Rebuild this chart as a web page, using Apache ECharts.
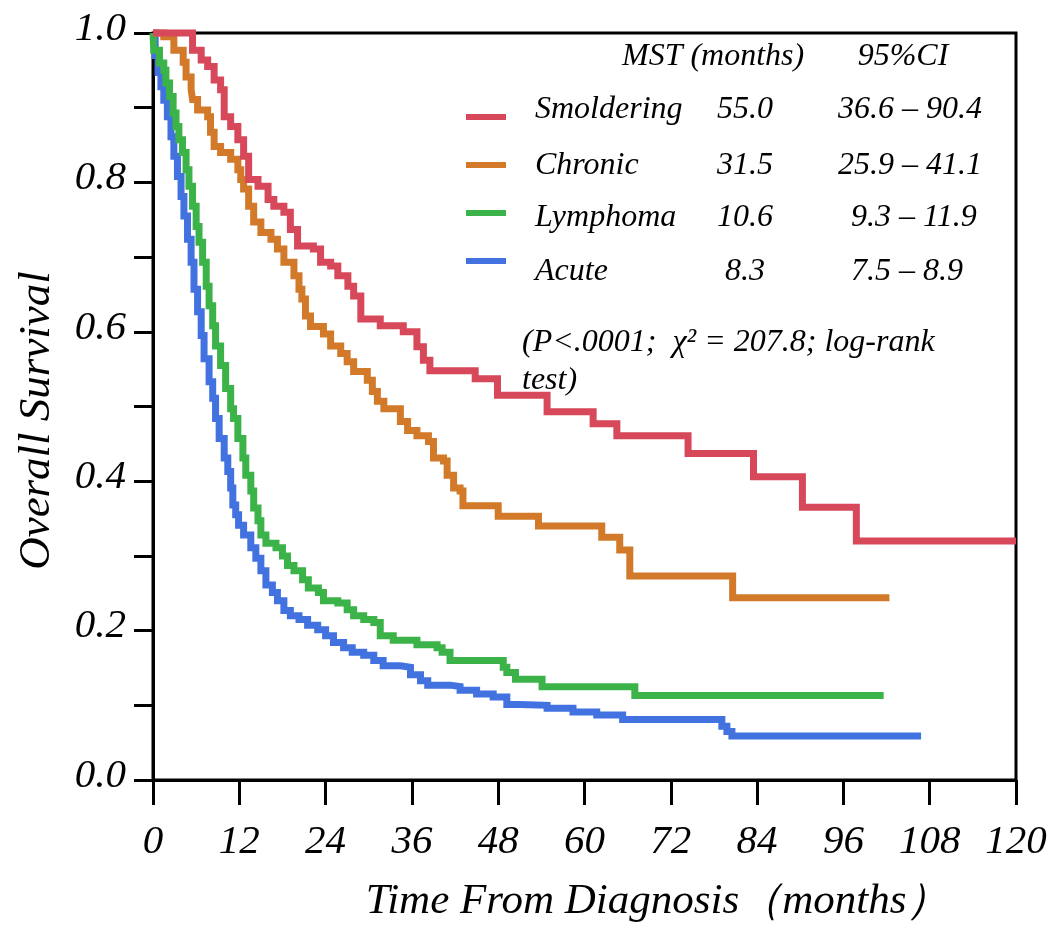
<!DOCTYPE html>
<html>
<head>
<meta charset="utf-8">
<script src="https://cdn.jsdelivr.net/npm/echarts@6/dist/echarts.min.js"></script>
<style>html,body{margin:0;padding:0;background:#fff}#chart{width:1063px;height:928px}</style>
</head>
<body>
<div id="chart"></div>
<script>
// ---- data ----
const categories = ['Smoldering', 'Chronic', 'Lymphoma', 'Acute'];
const colors = ['#D6485A', '#D27A29', '#3BB348', '#4172E0'];
const mstMonths = ['55.0', '31.5', '10.6', '8.3'];
const ci95 = ['36.6 \u2013 90.4', '25.9 \u2013 41.1', '9.3 \u2013 11.9', '7.5 \u2013 8.9'];
const xTickLabels = ['0','12','24','36','48','60','72','84','96','108','120'];
const yTickLabels = ['0.0','','0.2','','0.4','','0.6','','0.8','','1.0'];

const smoldering = [[0,1],[4.8,1],[5.5,0.977],[6.7,0.964],[7.6,0.955],[8.5,0.937],[9.4,0.924],[9.9,0.888],[10.8,0.875],[11.8,0.857],[12.6,0.835],[13.3,0.804],[14.6,0.795],[16,0.777],[16.8,0.768],[18.2,0.76],[19.1,0.737],[20.1,0.715],[22.3,0.711],[23.3,0.693],[24.7,0.688],[25.7,0.675],[27.1,0.661],[27.9,0.648],[28.9,0.617],[31.6,0.608],[34.8,0.6],[36.7,0.58],[37.6,0.562],[38.5,0.548],[44.8,0.537],[47.9,0.515],[54.8,0.493],[61.2,0.477],[64.5,0.461],[74.4,0.437],[83.5,0.406],[90.3,0.365],[97.8,0.32],[120,0.32]];
const chronic = [[0,1],[1.5,0.995],[2.9,0.977],[4.2,0.961],[4.6,0.941],[5.3,0.924],[5.5,0.911],[6.2,0.897],[7.6,0.888],[8,0.867],[8.5,0.848],[9.4,0.84],[10.8,0.831],[11.8,0.817],[12.2,0.804],[12.6,0.791],[13.3,0.768],[14,0.747],[15,0.733],[16.4,0.724],[17.3,0.711],[18.2,0.693],[19.6,0.675],[20.3,0.657],[20.7,0.644],[21.2,0.621],[21.9,0.607],[23.7,0.597],[24.7,0.581],[26.1,0.571],[27,0.56],[27.9,0.547],[29.8,0.535],[30.5,0.52],[31.2,0.507],[32.1,0.497],[34.4,0.48],[35.4,0.468],[36.7,0.461],[38.3,0.453],[39,0.431],[40.4,0.427],[40.9,0.408],[41.8,0.391],[42.7,0.387],[43.1,0.367],[48,0.353],[53.6,0.34],[62.4,0.325],[64.9,0.308],[66.3,0.273],[80.6,0.244],[102.4,0.244]];
const lymphoma = [[0,1],[0.1,0.977],[0.9,0.96],[1.5,0.95],[1.8,0.933],[2.3,0.915],[2.8,0.893],[3.2,0.875],[3.6,0.857],[4.1,0.84],[4.6,0.817],[5,0.795],[5.5,0.768],[6,0.741],[6.4,0.72],[6.9,0.693],[7.4,0.661],[7.8,0.635],[8.3,0.608],[8.7,0.581],[9.4,0.555],[10.1,0.524],[10.8,0.497],[11.2,0.484],[11.8,0.457],[12.5,0.431],[12.9,0.408],[13.6,0.387],[14,0.364],[14.6,0.347],[15,0.328],[15.7,0.317],[17.1,0.311],[18,0.3],[18.7,0.287],[19.6,0.28],[20.8,0.268],[21.6,0.257],[23,0.251],[23.7,0.24],[25.7,0.237],[27,0.228],[27.9,0.22],[29.3,0.215],[30.7,0.211],[31.6,0.193],[33.4,0.187],[36.7,0.181],[39.5,0.177],[40.2,0.171],[41.3,0.16],[48.7,0.151],[49.2,0.144],[50.4,0.135],[54.1,0.125],[67,0.113],[101.6,0.113]];
const acute = [[0,1],[0.3,0.97],[0.7,0.947],[1.1,0.928],[1.5,0.91],[2,0.888],[2.5,0.861],[2.9,0.835],[3.4,0.808],[3.9,0.781],[4.3,0.755],[4.8,0.724],[5.3,0.693],[5.7,0.657],[6.2,0.627],[6.7,0.595],[7.1,0.564],[7.8,0.533],[8.3,0.511],[8.7,0.484],[9.2,0.457],[9.9,0.431],[10.4,0.413],[10.8,0.391],[11.1,0.368],[11.5,0.355],[11.9,0.341],[12.6,0.328],[13.6,0.311],[14.3,0.297],[15,0.28],[15.7,0.261],[16.6,0.251],[17.3,0.24],[18.2,0.227],[19.1,0.22],[20.3,0.215],[21.5,0.207],[22.9,0.201],[24,0.193],[25.1,0.184],[26.5,0.177],[27.7,0.171],[29.3,0.167],[30.7,0.16],[32,0.153],[34.4,0.151],[35.8,0.141],[37.2,0.133],[38.2,0.127],[41.3,0.125],[42.7,0.12],[45,0.115],[47.3,0.111],[49.2,0.101],[51,0.1],[54.8,0.096],[58.4,0.091],[61.7,0.087],[65.3,0.081],[79.1,0.072],[79.8,0.065],[80.5,0.059],[106.8,0.059]];
const seriesData = [smoldering, chronic, lymphoma, acute];

// ---- styling / layout ----
const FONT = "'Liberation Serif', 'Times New Roman', serif";
const textY = [110, 166, 218, 272];      // row text centers

const tableText = [];
const txt = (text, x, y, align) => ({
  type: 'text', x: x, y: y,
  style: { text: text, fontFamily: FONT, fontStyle: 'italic', fontSize: 32, fill: '#000', align: align, verticalAlign: 'middle' }
});
tableText.push(txt('MST (months)', 622, 57, 'left'));
tableText.push(txt('95%CI', 903, 57, 'center'));
categories.forEach((v, i) => tableText.push(txt(v, 535, textY[i], 'left')));
mstMonths.forEach((v, i) => tableText.push(txt(v, 745, textY[i], 'center')));
const ciLeft = [838, 838, 851, 851];
ci95.forEach((v, i) => tableText.push(txt(v, ciLeft[i], textY[i], 'left')));
tableText.push({
  type: 'text', x: 522, y: 324,
  style: { text: '(P<.0001;  \u03c7\u00b2 = 207.8; log-rank\ntest)', fontFamily: FONT, fontStyle: 'italic', fontSize: 32, fill: '#000', lineHeight: 38, align: 'left', verticalAlign: 'top' }
});

const chart = echarts.init(document.getElementById('chart'), null, { renderer: 'canvas' });
chart.setOption({
  animation: false,
  backgroundColor: '#fff',
  grid: { left: 153, top: 33, width: 863, height: 749, show: true, borderColor: '#000', borderWidth: 3, containLabel: false },
  legend: {
    data: categories, orient: 'vertical', left: 466, top: 114, padding: 0,
    icon: 'rect', itemWidth: 40, itemHeight: 6, itemGap: 42, selectedMode: false,
    formatter: () => '', textStyle: { fontSize: 1, lineHeight: 1 }
  },
  xAxis: {
    type: 'value', min: 0, max: 120, interval: 12,
    name: 'Time From Diagnosis\uff08months\uff09', nameLocation: 'middle', nameGap: 100,
    nameTextStyle: { fontFamily: FONT, fontStyle: 'italic', fontSize: 43, color: '#000', padding: [0, 0, 0, 146] },
    axisLine: { show: true, lineStyle: { color: '#000', width: 3 } },
    axisTick: { show: true, inside: false, length: 25, lineStyle: { color: '#000', width: 3 } },
    axisLabel: { fontFamily: FONT, fontStyle: 'italic', fontSize: 41, color: '#000', margin: 42,
      formatter: v => xTickLabels[Math.round(v / 12)] },
    splitLine: { show: false }
  },
  yAxis: {
    type: 'value', min: 0, max: 1, interval: 0.1,
    name: 'Overall Survival', nameLocation: 'middle', nameGap: 93, nameRotate: 90,
    nameTextStyle: { fontFamily: FONT, fontStyle: 'italic', fontSize: 45, color: '#000', padding: [0, 28, 0, 0] },
    axisLine: { show: true, lineStyle: { color: '#000', width: 3 } },
    axisTick: { show: true, inside: false, length: 19, lineStyle: { color: '#000', width: 3 } },
    axisLabel: { fontFamily: FONT, fontStyle: 'italic', fontSize: 41, color: '#000', margin: 27,
      formatter: v => { const s = yTickLabels[Math.round(v * 10)]; return s ? '{a|' + s + '}' : ''; },
      rich: { a: { fontFamily: FONT, fontStyle: 'italic', fontSize: 41, color: '#000', padding: [0, 0, 8, 0] } } },
    splitLine: { show: false }
  },
  series: categories.map((name, i) => ({
    name: name, type: 'line', step: 'end', data: seriesData[i], showSymbol: false, symbol: 'none',
    color: colors[i], itemStyle: { color: colors[i] },
    lineStyle: { color: colors[i], width: 7, join: 'miter' }, clip: false, z: 10 - i
  })),
  graphic: tableText
});
</script>
</body>
</html>
